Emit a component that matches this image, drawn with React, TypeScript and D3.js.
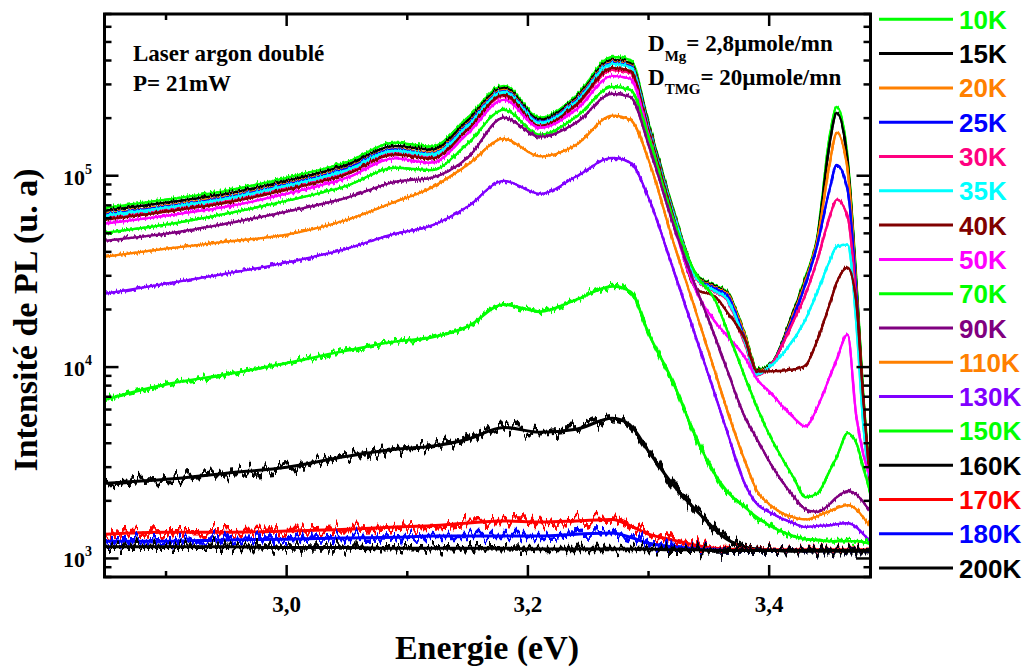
import React from "react";
import * as d3 from "d3";

// Photon energy grid (eV) shared by all spectra
const ENERGY = [2.85, 2.9, 2.95, 3.0, 3.05, 3.09, 3.12, 3.15, 3.18, 3.21, 3.24, 3.27, 3.285, 3.3, 3.32, 3.34, 3.355, 3.365, 3.38, 3.39, 3.4, 3.42, 3.43, 3.44, 3.45, 3.456, 3.465, 3.472, 3.478, 3.484];

// PL intensity (a.u.) per temperature
const PL_10K = [68000, 75000, 83500, 97600, 118000, 149000, 142000, 201000, 295000, 201000, 261000, 418000, 403000, 189000, 68900, 30400, 26700, 24800, 14800, 9720, 10200, 19500, 29400, 48600, 158000, 229000, 124000, 30400, 7200, 2530];
const PL_15K = [65700, 72300, 80500, 94000, 114000, 143000, 137000, 194000, 288000, 196000, 255000, 403000, 388000, 185000, 67300, 30100, 26400, 24500, 14600, 9600, 10100, 19300, 28700, 47500, 145000, 213000, 118000, 28700, 6780, 2440];
const PL_20K = [63400, 69700, 77700, 90800, 110000, 138000, 132000, 187000, 281000, 191000, 249000, 393000, 379000, 180000, 66500, 29700, 26000, 24200, 14500, 9500, 9960, 18800, 28000, 46300, 114000, 168000, 107000, 27000, 6390, 2360];
const PL_25K = [62600, 68900, 76800, 89800, 109000, 137000, 130000, 185000, 277000, 191000, 246000, 388000, 375000, 178000, 65700, 29400, 25700, 23700, 13900, 9270, 9960, 18200, 27000, 43700, 84500, 114000, 84500, 25400, 6010, 2660];
const PL_30K = [60000, 66000, 73500, 86000, 104000, 131000, 125000, 176000, 261000, 180000, 232000, 357000, 344000, 170000, 64100, 28700, 24800, 22500, 13100, 9050, 9960, 17300, 23900, 36500, 60400, 75000, 61100, 22500, 5330, 2170];
const PL_35K = [61800, 68100, 75900, 88700, 107000, 135000, 129000, 182000, 274000, 189000, 243000, 384000, 370000, 176000, 64900, 29000, 25100, 22800, 13500, 9160, 9960, 13900, 17700, 24800, 35600, 42600, 43700, 17700, 5020, 2300];
const PL_40K = [58900, 64900, 72300, 84500, 102000, 129000, 123000, 174000, 265000, 182000, 235000, 366000, 353000, 172000, 62600, 25400, 23400, 19500, 13900, 9500, 9500, 9720, 10200, 13900, 21200, 27700, 33100, 22500, 6780, 2300];
const PL_50K = [56200, 61800, 68900, 80500, 97600, 123000, 117000, 166000, 249000, 178000, 221000, 332000, 321000, 164000, 57500, 24500, 17300, 14600, 11200, 8630, 7470, 5460, 4900, 6160, 8840, 11000, 14800, 5670, 3500, 2660];
const PL_70K = [50400, 55500, 63400, 74000, 88700, 110000, 107000, 147000, 221000, 164000, 203000, 291000, 281000, 160000, 60400, 30100, 22500, 15700, 8840, 6160, 4450, 2660, 2090, 2190, 2860, 3380, 4510, 4050, 3000, 2170];
const PL_90K = [45800, 49800, 56200, 64900, 76800, 93000, 97600, 124000, 201000, 160000, 189000, 268000, 258000, 145000, 56800, 25400, 14500, 9720, 5460, 4200, 3220, 2120, 1810, 1750, 1920, 2090, 2250, 2170, 1970, 1750];
const PL_110K = [37800, 41600, 45200, 49200, 58900, 73100, 86600, 114000, 156000, 126000, 145000, 206000, 196000, 121000, 46300, 18800, 9500, 6010, 3220, 2250, 1920, 1640, 1600, 1660, 1770, 1830, 1900, 1810, 1640, 1460];
const PL_130K = [24200, 27300, 30800, 35200, 41600, 49800, 54800, 68900, 94000, 80500, 99000, 124000, 117000, 76800, 33100, 13900, 7200, 4620, 2440, 1920, 1750, 1530, 1460, 1480, 1490, 1510, 1530, 1460, 1340, 1230];
const PL_150K = [6780, 8120, 9160, 10500, 12200, 13600, 14300, 16300, 21200, 19500, 22500, 26400, 24800, 15000, 8420, 4200, 2760, 2250, 1850, 1640, 1490, 1310, 1260, 1250, 1230, 1230, 1230, 1230, 1220, 1190];
const PL_160K = [2470, 2590, 2790, 3000, 3420, 3720, 3860, 4200, 4840, 4560, 4730, 5400, 4960, 3630, 2440, 1770, 1420, 1260, 1150, 1120, 1110, 1090, 1090, 1090, 1090, 1090, 1090, 1090, 1090, 1090];
const PL_170K = [1340, 1370, 1370, 1390, 1420, 1460, 1480, 1530, 1570, 1550, 1570, 1600, 1480, 1340, 1250, 1170, 1130, 1120, 1110, 1110, 1110, 1110, 1110, 1110, 1110, 1110, 1110, 1110, 1110, 1110];
const PL_180K = [1230, 1230, 1250, 1260, 1280, 1290, 1310, 1310, 1310, 1310, 1340, 1360, 1290, 1200, 1150, 1120, 1110, 1100, 1100, 1100, 1100, 1100, 1100, 1100, 1100, 1100, 1100, 1100, 1100, 1100];
const PL_200K = [1150, 1150, 1150, 1140, 1140, 1130, 1130, 1130, 1130, 1120, 1120, 1120, 1120, 1120, 1110, 1110, 1100, 1100, 1100, 1100, 1100, 1100, 1100, 1100, 1100, 1100, 1100, 1100, 1100, 1100];

const TEMPS = ["10K", "15K", "20K", "25K", "30K", "35K", "40K", "50K", "70K", "90K", "110K", "130K", "150K", "160K", "170K", "180K", "200K"];
const SERIES = [PL_10K, PL_15K, PL_20K, PL_25K, PL_30K, PL_35K, PL_40K, PL_50K, PL_70K, PL_90K, PL_110K, PL_130K, PL_150K, PL_160K, PL_170K, PL_180K, PL_200K];
const COLORS = ["#00ff00", "#000000", "#ff8000", "#0000ff", "#ff0080", "#00ffff", "#800000", "#ff00ff", "#00ff00", "#800080", "#ff8000", "#8000ff", "#00ff00", "#000000", "#ff0000", "#0000ff", "#000000"];
// noise texture level (visual style only)
const NOISE = [1, 1, 1, 1, 1, 1, 1, 1, 1, 1, 1, 1, 2, 3, 3, 3, 3];

const X_DOMAIN = [2.849, 3.484];
const Y_DOMAIN = [800, 7e5];

const W = 1032;
const H = 668;
const L = 104.5, R = 870.5, T = 14, B = 577;

const FILTERS = [
  { id: 1, freq: "0.6 0.04", scale: 8, sw: 2.4, base: 2.2 },
  { id: 2, freq: "0.35 0.03", scale: 14, sw: 3.2, base: 2.6 },
  { id: 3, freq: "0.25 0.02", scale: 26, sw: 4.5, base: 3 },
];

export default function App() {
  const x = d3.scaleLinear().domain(X_DOMAIN).range([L, R]);
  const y = d3.scaleLog().domain(Y_DOMAIN).range([B, T]);
  const line = d3
    .line<number>()
    .x((_, i) => x(ENERGY[i]))
    .y((d) => y(d))
    .curve(d3.curveMonotoneX);

  const yTicks = y.ticks();
  const isPow10 = (v: number) => Math.abs(Math.log10(v) - Math.round(Math.log10(v))) < 1e-9;
  const xTicks = d3.range(29, 35).map((k) => k / 10);
  const fmt = (v: number) => v.toFixed(1).replace(".", ",");

  const serif = "'Liberation Serif', 'Times New Roman', serif";
  const sans = "'Liberation Sans', Arial, sans-serif";

  return (
    <svg width={W} height={H} style={{ position: "absolute", left: 0, top: 0, background: "#fff" }}>
      <defs>
        <clipPath id="plot">
          <rect x={L} y={T} width={R - L} height={B - T} />
        </clipPath>
        {FILTERS.map((f) => (
          <filter key={f.id} id={`nz${f.id}`} filterUnits="userSpaceOnUse" x={L - 5} y={T - 20} width={R - L + 10} height={B - T + 40} colorInterpolationFilters="sRGB">
            <feTurbulence type="fractalNoise" baseFrequency={f.freq} numOctaves={2} seed={f.id * 7} result="t" />
            <feColorMatrix in="t" type="matrix" values="0 0 0 0 0.5  0 1 0 0 0  0 0 0 0 0  0 0 0 0 1" result="m" />
            <feDisplacementMap in="SourceGraphic" in2="m" scale={f.scale} xChannelSelector="R" yChannelSelector="G" />
          </filter>
        ))}
      </defs>

      <g clipPath="url(#plot)">
        {SERIES.map((s, i) => {
          const f = FILTERS[NOISE[i] - 1];
          const d = line(s) || "";
          return (
            <g key={TEMPS[i]}>
              <path d={d} fill="none" stroke={COLORS[i]} strokeWidth={f.sw} filter={`url(#nz${f.id})`} />
              <path d={d} fill="none" stroke={COLORS[i]} strokeWidth={f.base} />
            </g>
          );
        })}
      </g>

      {/* frame */}
      <rect x={L} y={T} width={R - L} height={B - T} fill="none" stroke="#000" strokeWidth={3} />

      {/* y ticks */}
      {yTicks.map((v) => {
        const major = isPow10(v);
        const len = major ? 14 : 7;
        const yy = y(v);
        return (
          <g key={`y${v}`}>
            <line x1={L} x2={L + len} y1={yy} y2={yy} stroke="#000" strokeWidth={2.5} />
            <line x1={R} x2={R - len} y1={yy} y2={yy} stroke="#000" strokeWidth={2.5} />
            {major && (
              <text x={92} y={yy + 9} textAnchor="end" fontFamily={serif} fontWeight="bold" fontSize={22}>
                10
                <tspan fontSize={14} dy={-11}>
                  {Math.round(Math.log10(v))}
                </tspan>
              </text>
            )}
          </g>
        );
      })}

      {/* x ticks */}
      {xTicks.map((v) => {
        const major = Math.round(v * 10) % 2 === 0;
        const len = major ? 12 : 6;
        const xx = x(v);
        return (
          <g key={`x${v}`}>
            <line x1={xx} x2={xx} y1={B} y2={B - len} stroke="#000" strokeWidth={2.5} />
            <line x1={xx} x2={xx} y1={T} y2={T + len} stroke="#000" strokeWidth={2.5} />
            {major && (
              <text x={xx} y={612} textAnchor="middle" fontFamily={serif} fontWeight="bold" fontSize={23}>
                {fmt(v)}
              </text>
            )}
          </g>
        );
      })}

      {/* axis titles */}
      <text x={487} y={659} textAnchor="middle" fontFamily={serif} fontWeight="bold" fontSize={34}>
        Energie (eV)
      </text>
      <text transform="translate(37,320) rotate(-90)" textAnchor="middle" fontFamily={serif} fontWeight="bold" fontSize={34}>
        Intensité de PL (u. a)
      </text>

      {/* annotations */}
      <text x={133} y={61} fontFamily={serif} fontWeight="bold" fontSize={23}>
        Laser argon doublé
      </text>
      <text x={133} y={91} fontFamily={serif} fontWeight="bold" fontSize={23}>
        P= 21mW
      </text>
      <text x={648} y={51} fontFamily={serif} fontWeight="bold" fontSize={23}>
        D<tspan fontSize={15} dy={10}>Mg</tspan>
        <tspan dy={-10}>= 2,8µmole/mn</tspan>
      </text>
      <text x={648} y={85} fontFamily={serif} fontWeight="bold" fontSize={23}>
        D<tspan fontSize={15} dy={9}>TMG</tspan>
        <tspan dy={-9}>= 20µmole/mn</tspan>
      </text>

      {/* legend */}
      {TEMPS.map((t, i) => {
        const yy = 19.3 + i * 34.3;
        return (
          <g key={`lg${t}`}>
            <line x1={879} x2={953} y1={yy} y2={yy} stroke={COLORS[i]} strokeWidth={3} />
            <text x={959} y={yy + 9.5} fontFamily={sans} fontWeight="bold" fontSize={26} fill={COLORS[i]}>
              {t}
            </text>
          </g>
        );
      })}
    </svg>
  );
}
